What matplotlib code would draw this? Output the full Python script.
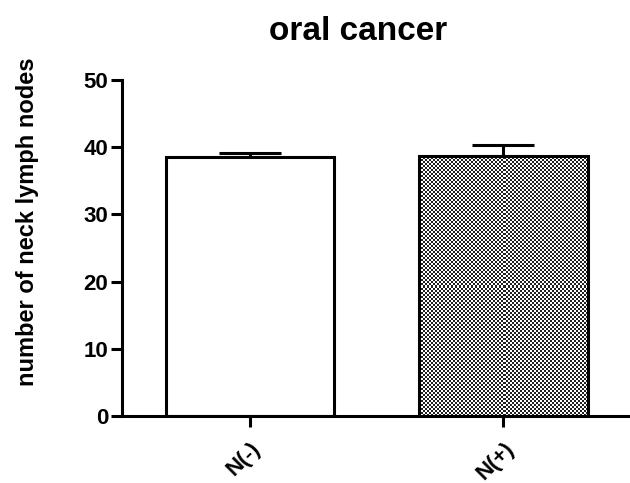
import numpy as np
import matplotlib
matplotlib.use("Agg")
import matplotlib.pyplot as plt

plt.rcParams['font.family'] = ['Liberation Sans', 'DejaVu Sans']
plt.rcParams['font.weight'] = 'bold'

groups = ["N(-)", "N(+)"]
means = [38.5, 38.7]
errors = [0.7, 1.6]
yticks = [0, 10, 20, 30, 40, 50]

fig = plt.figure(figsize=(6.3, 4.83), dpi=100)
ax = fig.add_axes([0.1937, 0.1387, 0.8063, 0.6957])

x = np.arange(len(groups))
bars = ax.bar(x, means, width=0.665, color="white", edgecolor="none", zorder=2)
ax.bar(x, means, width=0.665, fill=False, edgecolor="black", linewidth=2.2, zorder=3)
ax.errorbar(x, means, yerr=[[0, 0], errors], fmt="none", ecolor="black",
            elinewidth=2.2, capsize=22, capthick=2.2, zorder=1)

ax.set_xlim(-0.504, 1.5)
ax.set_ylim(0, 50)

# checkerboard fill for the second bar, 2px cells
b = bars[1]
x0, y0 = b.get_x(), 0
x1, y1 = b.get_x() + b.get_width(), b.get_height()
p0 = ax.transData.transform((x0, y0))
p1 = ax.transData.transform((x1, y1))
ncol = int(round((p1[0] - p0[0]) / 2))
nrow = int(round((p1[1] - p0[1]) / 2))
cells = np.indices((nrow, ncol)).sum(axis=0) % 2
img = ax.imshow(cells, cmap="gray_r", interpolation="nearest", aspect="auto",
                extent=[x0, x1, y0, y1], zorder=2.5, vmin=0, vmax=1.15)
img.set_clip_path(b)
ax.set_xlim(-0.504, 1.5)
ax.set_ylim(0, 50)

ax.set_yticks(yticks)
ax.set_xticks(x)
ax.set_xticklabels(groups, rotation=45, ha="right", rotation_mode="anchor",
                   fontsize=16, fontweight="bold")
ax.tick_params(axis="y", labelsize=16, width=2.2, length=8, pad=2)
ax.tick_params(axis="x", width=2.2, length=8, pad=8)
for lab in ax.get_yticklabels():
    lab.set_fontweight("bold")

for side in ["top", "right"]:
    ax.spines[side].set_visible(False)
for side in ["left", "bottom"]:
    ax.spines[side].set_linewidth(2.2)

fig.text(358 / 630, 1 - 32 / 483, "oral cancer", ha="center", va="center",
         fontsize=24, fontweight="bold")
fig.text(28 / 630, 1 - 222 / 483, "number of neck lymph nodes", rotation=90,
         ha="center", va="center", fontsize=17, fontweight="bold")

fig.savefig("out.png", dpi=100)
